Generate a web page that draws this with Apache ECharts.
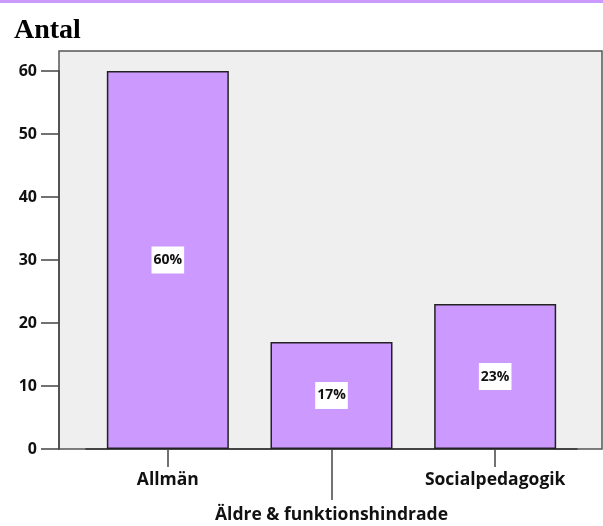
<!DOCTYPE html>
<html><head><meta charset="utf-8">
<script src="https://cdn.jsdelivr.net/npm/echarts@6/dist/echarts.min.js"></script>
<style>html,body{margin:0;padding:0;background:#fff}#c{width:603px;height:526px}</style>
</head><body><div id="c"></div>
<script>
const categories = ['Allmän', 'Äldre & funktionshindrade', 'Socialpedagogik'];
const counts = [60, 17, 23];
const yTicks = [0, 10, 20, 30, 40, 50, 60];
const title = 'Antal';

const total = counts.reduce((a, b) => a + b, 0);
const chart = echarts.init(document.getElementById('c'), null, {renderer: 'canvas'});
const xFont = {fontFamily: 'Open Sans', fontWeight: 'bold', fontSize: 17.5, color: '#111'};
const yFont = {fontFamily: 'Open Sans', fontWeight: 'bold', fontSize: 16, color: '#111'};
chart.setOption({
  animation: false,
  title: {text: title, left: 9, top: 12, textStyle: {fontFamily: 'Liberation Serif', fontWeight: 'bold', fontSize: 28, color: '#000'}},
  graphic: [{type: 'rect', left: 0, top: 0, shape: {width: 603, height: 3}, style: {fill: '#cc99ff'}}],
  grid: [
    {left: 59, top: 51, right: 1, bottom: 77, show: true, backgroundColor: '#efefef', borderColor: '#555', borderWidth: 1.5},
    {left: 86, top: 71, right: 26, bottom: 77}
  ],
  xAxis: [
    {gridIndex: 0, type: 'value', show: false},
    {gridIndex: 1, type: 'category', data: categories, position: 'bottom',
     axisLine: {show: true, lineStyle: {color: '#333', width: 1.5}},
     axisTick: {show: true, alignWithLabel: true, length: 18, lineStyle: {color: '#444', width: 1.5}, interval: (i) => i !== 1},
     axisLabel: Object.assign({margin: 22, interval: (i) => i !== 1}, xFont)},
    {gridIndex: 1, type: 'category', data: categories, position: 'bottom', offset: 0,
     axisLine: {show: false},
     axisTick: {show: true, alignWithLabel: true, length: 51, lineStyle: {color: '#444', width: 1.5}, interval: (i) => i === 1},
     axisLabel: Object.assign({margin: 57, interval: (i) => i === 1}, xFont)}
  ],
  yAxis: [
    {gridIndex: 0, type: 'value', show: false},
    {gridIndex: 1, type: 'value', min: 0, max: yTicks[yTicks.length - 1], interval: 10, offset: 27,
     splitLine: {show: false},
     axisLine: {show: true, lineStyle: {color: '#444', width: 1.5}},
     axisTick: {show: true, length: 18, lineStyle: {color: '#444', width: 1.5}},
     axisLabel: Object.assign({margin: 22}, yFont)}
  ],
  series: [{
    type: 'bar', xAxisIndex: 1, yAxisIndex: 1, data: counts, barWidth: 122,
    itemStyle: {color: '#cc99ff', borderColor: '#222', borderWidth: 1.5},
    label: {show: true, position: 'inside', formatter: (p) => Math.round(p.value / total * 100) + '%',
      backgroundColor: '#fff', padding: [7, 2, 6, 2], fontFamily: 'Open Sans', fontWeight: 'bold', fontSize: 14, color: '#111'}
  }]
});
</script></body></html>
